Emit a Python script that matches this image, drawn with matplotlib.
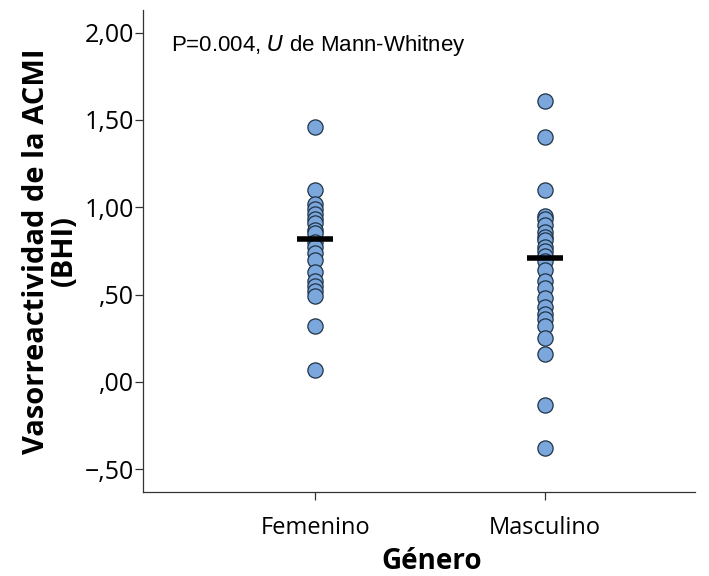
import matplotlib
matplotlib.use("Agg")
import matplotlib.pyplot as plt
import numpy as np

plt.rcParams['font.family'] = ['Open Sans', 'DejaVu Sans']

categories = ["Femenino", "Masculino"]
femenino = [1.46, 1.10, 1.02, 0.99, 0.96, 0.93, 0.91, 0.87, 0.85, 0.80, 0.77,
            0.74, 0.70, 0.63, 0.58, 0.55, 0.52, 0.49, 0.32, 0.07]
masculino = [1.61, 1.40, 1.10, 0.95, 0.93, 0.90, 0.86, 0.83, 0.81, 0.77, 0.75,
             0.72, 0.69, 0.64, 0.58, 0.54, 0.48, 0.43, 0.39, 0.36, 0.32,
             0.25, 0.16, -0.13, -0.38]
medias = [0.82, 0.71]
yticks = [-0.5, 0.0, 0.5, 1.0, 1.5, 2.0]
ytick_labels = ["\u2212,50", ",00", ",50", "1,00", "1,50", "2,00"]

fig = plt.figure(figsize=(7.09, 5.76), dpi=100)
ax = fig.add_axes([0.2017, 0.146, 0.778, 0.837])

for i, vals in enumerate([femenino, masculino]):
    x = np.full(len(vals), i + 1)
    ax.scatter(x, vals, s=120, color="#7ba7dc", edgecolor="#1f3347",
               linewidth=0.9, zorder=3)
    ax.hlines(medias[i], i + 1 - 0.078, i + 1 + 0.078, color="black",
              linewidth=4, zorder=4)

ax.set_xlim(0.25, 2.65)
ax.set_ylim(-0.63, 2.13)
ax.set_xticks([1, 2])
ax.set_xticklabels(categories, fontsize=17)
ax.set_yticks(yticks)
ax.set_yticklabels(ytick_labels, fontsize=18)

for s in ["top", "right"]:
    ax.spines[s].set_visible(False)
for s in ["left", "bottom"]:
    ax.spines[s].set_color("#333333")
    ax.spines[s].set_linewidth(0.9)
ax.tick_params(axis="y", length=6, width=0.9, color="#333333", pad=0.5)
ax.tick_params(axis="x", length=6, width=0.9, color="#333333", pad=11)

ax.set_xlabel("Género", fontsize=20, fontweight="bold")
ax.xaxis.set_label_coords(0.524, -0.114)
ax.set_ylabel("Vasorreactividad de la ACMI\n(BHI)", fontsize=21,
              fontweight="bold", linespacing=0.95, labelpad=4)

ax.text(0.05, 0.925, "P=0.004, $\\it{U}$ de Mann-Whitney", transform=ax.transAxes,
        fontsize=16, family="Liberation Sans", va="center")

fig.savefig("out.png", dpi=100)
